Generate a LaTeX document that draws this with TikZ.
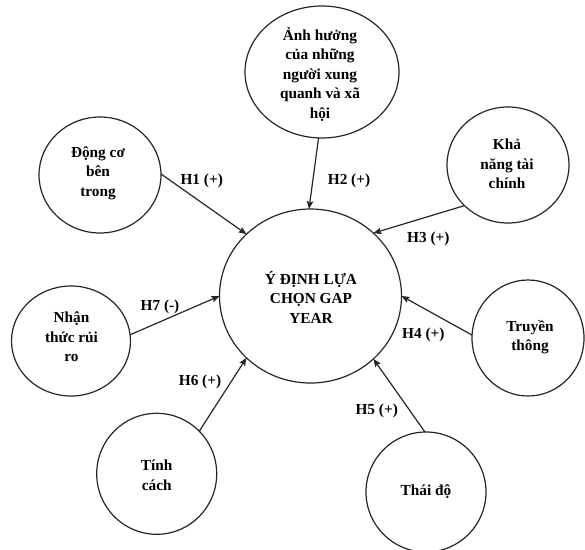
\documentclass[tikz,border=0pt]{standalone}
\usepackage{fontspec}
\setmainfont{Liberation Serif}
\usetikzlibrary{shapes.geometric,arrows.meta}

\tikzset{
  factor/.style={draw=black!85, line width=1.2pt, ellipse, inner sep=0pt, outer sep=0pt},
  factortext/.style={align=center, inner sep=0pt, font=\fontsize{15.3}{19.5}\selectfont\bfseries},
  hyp/.style={inner sep=0pt, font=\fontsize{15.3}{18}\selectfont\bfseries},
  link/.style={draw=black!85, line width=1.2pt, -{Stealth[length=8pt,width=6.5pt,inset=1.5pt]}}
}

\begin{document}
\begin{tikzpicture}[x=1pt,y=-1pt]
\useasboundingbox[fill=white] (0,0) rectangle (585,549);

% outcome variable
\node[factor, minimum width=182pt, minimum height=174pt] (C) at (310.5,296) {};
\node[factortext] (Ct) at (311,297) {Ý ĐỊNH LỰA\\CHỌN GAP\\YEAR};

% influencing factors
\node[factor, minimum width=154pt, minimum height=132pt] (A) at (322,72) {};
\node[factortext] (At) at (320,74) {Ảnh hưởng\\của những\\người xung\\quanh và xã\\hội};

\node[factor, minimum width=122pt, minimum height=116pt] (D) at (100,175) {};
\node[factortext] (Dt) at (98,173) {Động cơ\\bên\\trong};

\node[factor, minimum width=122pt, minimum height=116pt] (K) at (508,165) {};
\node[factortext] (Kt) at (507,164) {Khả\\năng tài\\chính};

\node[factor, minimum width=119pt, minimum height=110pt] (N) at (71,341) {};
\node[factortext] (Nt) at (71.5,337) {Nhận\\thức rủi\\ro};

\node[factor, minimum width=112pt, minimum height=116pt] (T) at (528,338) {};
\node[factortext] (Tt) at (530,337) {Truyền\\thông};

\node[factor, minimum width=120pt, minimum height=121pt] (TC) at (156.7,473.8) {};
\node[factortext] (TCt) at (156.7,475) {Tính\\cách};

\node[factor, minimum width=120pt, minimum height=120pt] (TD) at (426,492) {};
\node[factortext] (TDt) at (426,492) {Thái độ};

% hypotheses
\draw[link] (D.1)   -- (C.136);
\draw[link] (A.267) -- (C.91);
\draw[link] (K.223) -- (C.45);
\draw[link] (T.177) -- (C.0);
\draw[link] (TD.91) -- (C.-45);
\draw[link] (TC.45) -- (C.224);
\draw[link] (N.6)   -- (C.180);

\node[hyp] (h1) at (201.7,180.7) {H1 (+)};
\node[hyp] (h2) at (349,181) {H2 (+)};
\node[hyp] (h3) at (428.3,239.3) {H3 (+)};
\node[hyp] (h4) at (423.3,335) {H4 (+)};
\node[hyp] (h5) at (376.7,410.7) {H5 (+)};
\node[hyp] (h6) at (200,381.7) {H6 (+)};
\node[hyp] (h7) at (160,307.3) {H7 (-)};
\end{tikzpicture}
\end{document}
